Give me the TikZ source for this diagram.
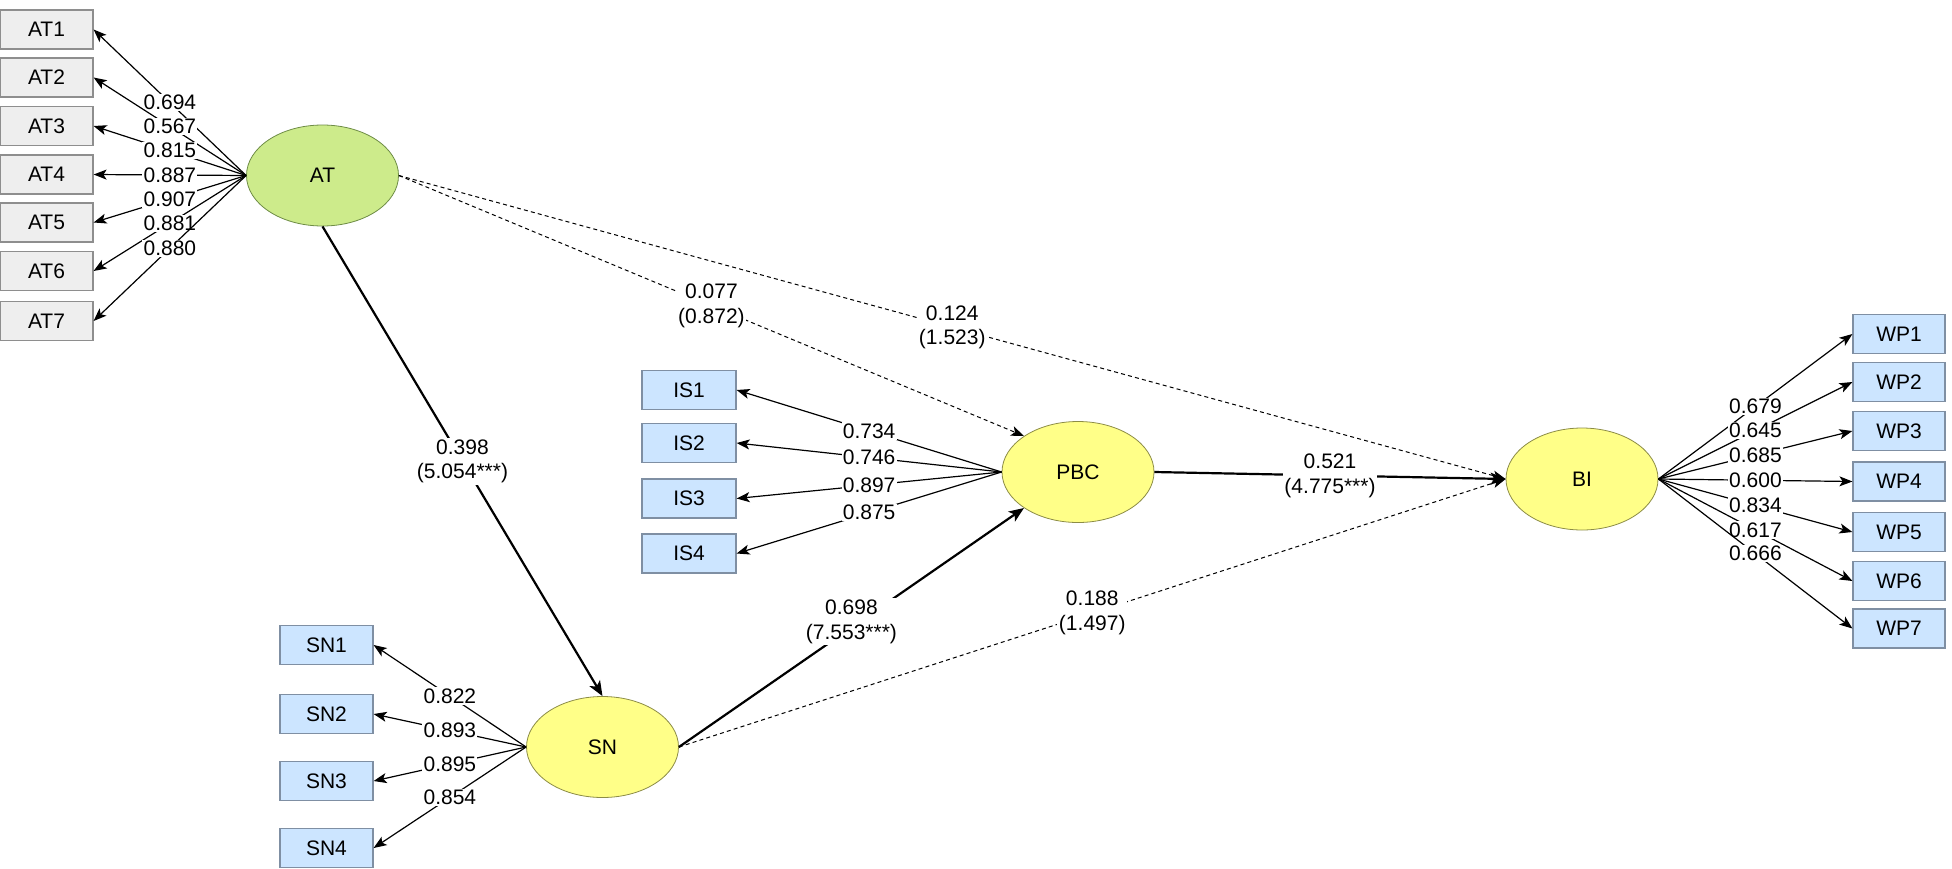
\documentclass[tikz,border=0pt]{standalone}
\usepackage{fontspec}
\setmainfont{Liberation Sans}
\usepackage{xcolor}
\usepackage{tikz}
\usetikzlibrary{shapes.geometric,arrows.meta}

\definecolor{atgreen}{HTML}{CDEB8B}
\definecolor{lvyellow}{HTML}{FFFF88}
\definecolor{mvblue}{HTML}{CCE5FF}
\definecolor{mvgray}{HTML}{EEEEEE}
\definecolor{grayedge}{HTML}{8E8E8E}
\definecolor{blueedge}{HTML}{7F8FA3}
\definecolor{olive}{HTML}{8C8C46}
\definecolor{greenedge}{HTML}{6E8C46}

\tikzset{
  gbox/.style={draw=grayedge, fill=mvgray, line width=0.6pt, minimum width=46.5pt, minimum height=19.5pt, inner sep=0pt},
  bbox/.style={draw=blueedge, fill=mvblue, line width=0.6pt, minimum width=46.5pt, minimum height=19.5pt, inner sep=0pt},
  lv/.style={ellipse, draw=olive, fill=lvyellow, line width=0.4pt, minimum width=76pt, minimum height=50.5pt, inner sep=0pt},
  ld/.style={fill=white, inner sep=0.6pt},
  pl/.style={fill=white, inner sep=0.8pt, align=center},
  ind/.style={>={Stealth[length=6.5pt, width=5pt, inset=1.6pt]}, ->, line width=0.6pt},
  strong/.style={>={Stealth[length=7.5pt, width=6pt, inset=1.8pt]}, ->, line width=1.1pt},
  weak/.style={>={Stealth[length=6.5pt, width=5pt, inset=1.6pt]}, ->, line width=0.5pt, dash pattern=on 2pt off 1.6pt}
}

\begin{document}
\begin{tikzpicture}[x=0.5pt, y=-0.5pt, font=\fontsize{10.5}{12.4}\selectfont]

\useasboundingbox (0,0) rectangle (1952,868);

\node[gbox] (at1) at (46.5,29.5) {AT1};
\node[gbox] (at2) at (46.5,77.5) {AT2};
\node[gbox] (at3) at (46.5,126) {AT3};
\node[gbox] (at4) at (46.5,174.5) {AT4};
\node[gbox] (at5) at (46.5,222.5) {AT5};
\node[gbox] (at6) at (46.5,271) {AT6};
\node[gbox] (at7) at (46.5,321) {AT7};

\node[lv, fill=atgreen, draw=greenedge] (at) at (322.5,175.5) {AT};

\node[bbox, minimum width=47pt] (is1) at (689,390) {IS1};
\node[bbox, minimum width=47pt] (is2) at (689,443) {IS2};
\node[bbox, minimum width=47pt] (is3) at (689,498.5) {IS3};
\node[bbox, minimum width=47pt] (is4) at (689,553.5) {IS4};

\node[lv] (pbc) at (1078,472) {PBC};

\node[bbox] (sn1) at (326.5,645) {SN1};
\node[bbox] (sn2) at (326.5,714) {SN2};
\node[bbox] (sn3) at (326.5,781) {SN3};
\node[bbox] (sn4) at (326.5,848) {SN4};

\node[lv] (sn) at (602.5,747) {SN};

\node[lv, minimum height=51pt] (bi) at (1582,479) {BI};

\node[bbox, minimum width=46pt] (wp1) at (1899,334) {WP1};
\node[bbox, minimum width=46pt] (wp2) at (1899,382) {WP2};
\node[bbox, minimum width=46pt] (wp3) at (1899,431) {WP3};
\node[bbox, minimum width=46pt] (wp4) at (1899,481.5) {WP4};
\node[bbox, minimum width=46pt] (wp5) at (1899,532) {WP5};
\node[bbox, minimum width=46pt] (wp6) at (1899,581) {WP6};
\node[bbox, minimum width=46pt] (wp7) at (1899,628.5) {WP7};

\draw[ind] (at.west) -- (at1.east) node[ld, pos=.5] {0.694};
\draw[ind] (at.west) -- (at2.east) node[ld, pos=.5] {0.567};
\draw[ind] (at.west) -- (at3.east) node[ld, pos=.5] {0.815};
\draw[ind] (at.west) -- (at4.east) node[ld, pos=.5] {0.887};
\draw[ind] (at.west) -- (at5.east) node[ld, pos=.5] {0.907};
\draw[ind] (at.west) -- (at6.east) node[ld, pos=.5] {0.881};
\draw[ind] (at.west) -- (at7.east) node[ld, pos=.5] {0.880};

\draw[ind] (pbc.west) -- (is1.east) node[ld, pos=.5] {0.734};
\draw[ind] (pbc.west) -- (is2.east) node[ld, pos=.5] {0.746};
\draw[ind] (pbc.west) -- (is3.east) node[ld, pos=.5] {0.897};
\draw[ind] (pbc.west) -- (is4.east) node[ld, pos=.5] {0.875};

\draw[ind] (sn.west) -- (sn1.east) node[ld, pos=.5] {0.822};
\draw[ind] (sn.west) -- (sn2.east) node[ld, pos=.5] {0.893};
\draw[ind] (sn.west) -- (sn3.east) node[ld, pos=.5] {0.895};
\draw[ind] (sn.west) -- (sn4.east) node[ld, pos=.5] {0.854};

\draw[ind] (bi.east) -- (wp1.west) node[ld, pos=.5] {0.679};
\draw[ind] (bi.east) -- (wp2.west) node[ld, pos=.5] {0.645};
\draw[ind] (bi.east) -- (wp3.west) node[ld, pos=.5] {0.685};
\draw[ind] (bi.east) -- (wp4.west) node[ld, pos=.5] {0.600};
\draw[ind] (bi.east) -- (wp5.west) node[ld, pos=.5] {0.834};
\draw[ind] (bi.east) -- (wp6.west) node[ld, pos=.5] {0.617};
\draw[ind] (bi.east) -- (wp7.west) node[ld, pos=.5] {0.666};

\draw[strong] (at.south) -- (sn.north) node[pl, pos=.5] {0.398\\(5.054***)};

\draw[weak] (at.east) -- (pbc.north west) node[pl, pos=.5] {0.077\\(0.872)};

\draw[weak] (at.east) -- (bi.west) node[pl, pos=.5] {0.124\\(1.523)};

\draw[strong] (sn.east) -- (pbc.south west) node[pl, pos=.5, yshift=3pt] {0.698\\(7.553***)};

\draw[weak] (sn.east) -- (bi.west) node[pl, pos=.5] {0.188\\(1.497)};

\draw[strong] (pbc.east) -- (bi.west) node[pl, pos=.5] {0.521\\(4.775***)};

\end{tikzpicture}
\end{document}
